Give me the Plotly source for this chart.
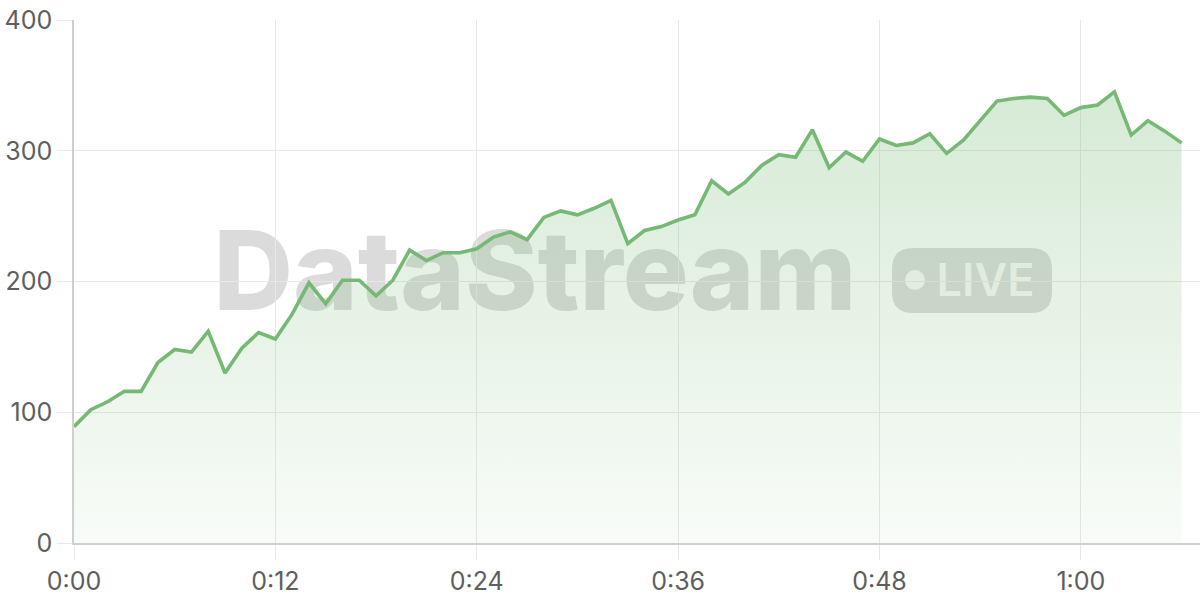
import plotly.graph_objects as go

# ---- data ----
minutes = list(range(67))
values = [89, 102, 108, 116, 116, 138, 148, 146, 162, 130, 149, 161, 156, 175, 199,
          183, 201, 201, 189, 201, 224, 216, 222, 222, 225, 234, 238, 232, 249, 254,
          251, 256, 262, 229, 239, 242, 247, 251, 277, 267, 276, 289, 297, 295, 316,
          287, 299, 292, 309, 304, 306, 313, 298, 308, 323, 338, 340, 341, 340, 327,
          333, 335, 345, 312, 323, 315, 306]
x_tickvals = [0, 12, 24, 36, 48, 60]
x_ticktext = ["0:00", "0:12", "0:24", "0:36", "0:48", "1:00"]
y_tickvals = [0, 100, 200, 300, 400]
y_ticktext = ["0", "100", "200", "300", "400"]

LINE = "rgb(118,185,116)"
TICKFONT = dict(family="Inter, Liberation Sans, sans-serif", size=25, color="#5e5e5e")

fig = go.Figure()
fig.add_trace(go.Scatter(
    x=minutes, y=values, mode="lines",
    line=dict(color=LINE, width=3.6),
    fill="tozeroy",
    fillgradient=dict(type="vertical", start=350, stop=0,
                      colorscale=[[0, "rgba(118,185,116,0.30)"], [1, "rgba(118,185,116,0.05)"]]),
    hoverinfo="skip", showlegend=False,
))

# watermark (drawn below gridlines)
W = 1126.0
H = 523.0
def px(xp):
    return (xp - 74) / W
def py(yp):
    return (543 - yp) / H

shapes = []
shapes.append(dict(type="rect", xref="paper", yref="paper", layer="below",
                   x0=px(200), x1=px(870), y0=py(317), y1=py(217),
                   line=dict(width=0), fillcolor="rgba(0,0,0,0)",
                   label=dict(text="DataStream", textposition="middle center",
                              font=dict(family="Inter, Liberation Sans, sans-serif", size=110,
                                        color="rgba(0,0,0,0.14)", weight=800))))
# pill
x0, x1, y0, y1 = 892, 1052, 248, 313
r = 21
rx, ry = r / W, r / H
X0, X1, Yb, Yt = px(x0), px(x1), py(y1), py(y0)
path = (f"M {X0+rx},{Yb} L {X1-rx},{Yb} Q {X1},{Yb} {X1},{Yb+ry} "
        f"L {X1},{Yt-ry} Q {X1},{Yt} {X1-rx},{Yt} L {X0+rx},{Yt} "
        f"Q {X0},{Yt} {X0},{Yt-ry} L {X0},{Yb+ry} Q {X0},{Yb} {X0+rx},{Yb} Z")
shapes.append(dict(type="path", xref="paper", yref="paper", layer="below", path=path,
                   line=dict(width=0), fillcolor="rgba(0,0,0,0.14)"))
shapes.append(dict(type="circle", xref="paper", yref="paper", layer="below",
                   x0=px(905), x1=px(925), y0=py(290), y1=py(270),
                   line=dict(width=0), fillcolor="rgba(255,255,255,0.85)"))
shapes.append(dict(type="rect", xref="paper", yref="paper", layer="below",
                   x0=px(930), x1=px(1041), y0=py(298), y1=py(258),
                   line=dict(width=0), fillcolor="rgba(0,0,0,0)",
                   label=dict(text="LIVE", textposition="middle center",
                              font=dict(family="Inter, Liberation Sans, sans-serif", size=45,
                                        color="rgba(255,255,255,0.85)", weight=600))))

fig.update_layout(
    width=1200, height=600,
    margin=dict(l=74, r=0, t=20, b=57),
    paper_bgcolor="white", plot_bgcolor="white",
    shapes=shapes,
    xaxis=dict(range=[0, 67.1], tickvals=x_tickvals, ticktext=x_ticktext,
               showgrid=True, gridcolor="#e8e8e8", gridwidth=1.3,
               showline=True, linecolor="#cfcfcf", linewidth=1.5,
               ticks="outside", ticklen=15, tickcolor="#e8e8e8", tickwidth=1.3,
               tickfont=TICKFONT, zeroline=False, fixedrange=True, automargin=False),
    yaxis=dict(range=[0, 400], tickvals=y_tickvals, ticktext=y_ticktext,
               showgrid=True, gridcolor="#e8e8e8", gridwidth=1.3,
               showline=True, linecolor="#cfcfcf", linewidth=1.5,
               ticks="outside", ticklen=15, tickcolor="#e8e8e8", tickwidth=1.3,
               tickfont=TICKFONT, zeroline=False, fixedrange=True, automargin=False),
)

fig.write_html("out.html", config={"displayModeBar": False},
               post_script="document.body.style.margin='0';document.body.style.overflow='hidden';")
